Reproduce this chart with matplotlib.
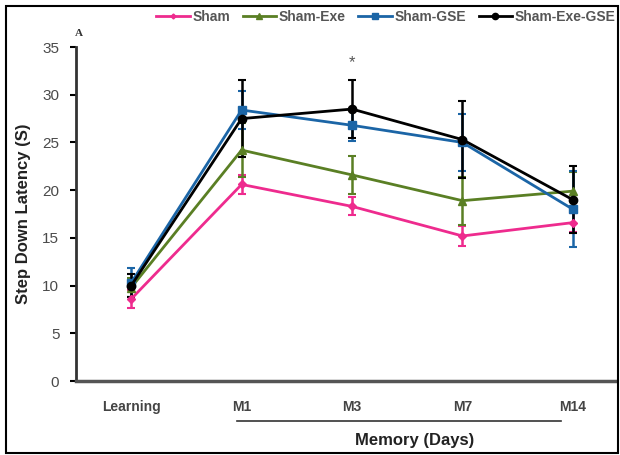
import matplotlib
matplotlib.use("Agg")
import matplotlib.pyplot as plt
from matplotlib.patches import Rectangle
from matplotlib.lines import Line2D

plt.rcParams["font.family"] = ["Liberation Sans", "DejaVu Sans"]

categories = ["Learning", "M1", "M3", "M7", "M14"]
sham = [8.6, 20.6, 18.3, 15.2, 16.6]
sham_err = [0.9, 1.0, 0.95, 1.0, 1.0]
sham_exe = [9.8, 24.2, 21.6, 18.9, 19.9]
sham_exe_err = [1.0, 2.8, 2.0, 2.5, 2.0]
sham_gse = [10.3, 28.4, 26.8, 25.0, 18.0]
sham_gse_err = [1.5, 2.0, 1.6, 3.0, 4.0]
sham_exe_gse = [10.0, 27.5, 28.5, 25.3, 19.0]
sham_exe_gse_err = [1.2, 4.0, 3.0, 4.0, 3.5]
series_names = ["Sham", "Sham-Exe", "Sham-GSE", "Sham-Exe-GSE"]

fig = plt.figure(figsize=(6.2, 4.55), dpi=100)
ax = fig.add_axes([0.1226, 0.1626, 0.869, 0.734])

x = list(range(len(categories)))
specs = [
    (sham, sham_err, "#EE2B8E", "D", 4),
    (sham_exe, sham_exe_err, "#5A7F24", "^", 6),
    (sham_gse, sham_gse_err, "#1B65A6", "s", 6),
    (sham_exe_gse, sham_exe_gse_err, "#000000", "o", 6),
]
handles = []
for (vals, err, col, mk, ms), name in zip(specs, series_names):
    ax.errorbar(x, vals, yerr=err, color=col, lw=2, marker=mk, ms=ms,
                capsize=3, elinewidth=1.8, capthick=1.5, zorder=3)
    handles.append(Line2D([0], [0], color=col, lw=2, marker=mk, ms=ms - 1.5))

ax.set_xlim(-0.5, 4.38)
ax.set_ylim(0, 35)
ax.set_yticks(range(0, 36, 5))
ax.set_xticks(x)
ax.set_xticklabels(categories, fontweight="bold", color="#444444", fontsize=10)
ax.tick_params(axis="x", length=0, pad=14)
ax.tick_params(axis="y", length=4, width=1.5, labelsize=11, labelcolor="#4a4a4a",
               direction="out", pad=8)
for s in ["top", "right"]:
    ax.spines[s].set_visible(False)
ax.spines["left"].set_linewidth(2)
ax.spines["left"].set_color("#333333")
ax.spines["bottom"].set_linewidth(2.5)
ax.spines["bottom"].set_color("#555555")
ax.set_ylabel("Step Down Latency (S)", fontweight="bold", fontsize=12, color="#222222", labelpad=8)

ax.text(2, 33.4, "*", ha="center", va="center", fontsize=12, color="#555555")

# Memory bracket line and label
fig.add_artist(Line2D([237 / 620, 561 / 620], [1 - 421 / 455, 1 - 421 / 455], color="#333333", lw=1.2))
fig.text(415 / 620, 1 - 440 / 455, "Memory (Days)", ha="center", va="center",
         fontweight="bold", fontsize=12, color="#222222")
fig.text(79 / 620, 1 - 33 / 455, "A", ha="center", va="center", fontsize=8,
         family="Liberation Serif", fontweight="bold", color="#333333")

leg = fig.legend(handles, series_names, loc="center", bbox_to_anchor=(386 / 620, 1 - 17 / 455),
                 ncol=4, frameon=False, handlelength=2.4, columnspacing=0.9,
                 handletextpad=0.2, prop={"weight": "bold", "size": 10})
for t in leg.get_texts():
    t.set_color("#555555")

fig.add_artist(Rectangle((6 / 620, 2 / 455), 612 / 620, 447 / 455, transform=fig.transFigure,
                         fill=False, edgecolor="black", lw=1.5))

fig.savefig("out.png", dpi=100)
